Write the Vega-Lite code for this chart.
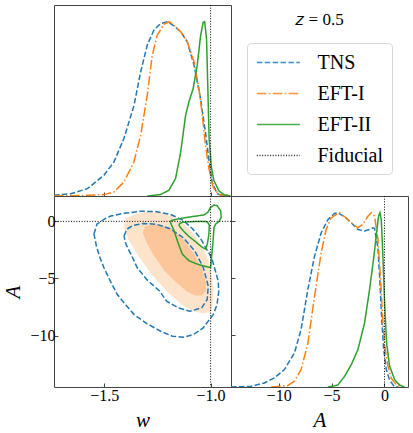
{
  "$schema": "https://vega.github.io/schema/vega-lite/v6.json",
  "padding": {"left": 2, "top": 4, "right": 0, "bottom": 0},
  "datasets": {
    "w1d": [
      {"model":"TNS","w":-1.737,"p":0.004},{"model":"TNS","w":-1.658,"p":0.013},{"model":"TNS","w":-1.58,"p":0.042},{"model":"TNS","w":-1.502,"p":0.119},{"model":"TNS","w":-1.455,"p":0.195},{"model":"TNS","w":-1.408,"p":0.33},{"model":"TNS","w":-1.361,"p":0.517},{"model":"TNS","w":-1.329,"p":0.713},{"model":"TNS","w":-1.298,"p":0.866},{"model":"TNS","w":-1.267,"p":0.952},{"model":"TNS","w":-1.236,"p":0.989},{"model":"TNS","w":-1.204,"p":1.0},{"model":"TNS","w":-1.173,"p":0.977},{"model":"TNS","w":-1.141,"p":0.943},{"model":"TNS","w":-1.11,"p":0.885},{"model":"TNS","w":-1.078,"p":0.751},{"model":"TNS","w":-1.047,"p":0.556},{"model":"TNS","w":-1.024,"p":0.364},{"model":"TNS","w":-1.008,"p":0.209},{"model":"TNS","w":-0.993,"p":0.08},{"model":"TNS","w":-0.969,"p":0.013},{"model":"TNS","w":-0.938,"p":0.0},
      {"model":"EFT-I","w":-1.737,"p":0},{"model":"EFT-I","w":-1.58,"p":0.004},{"model":"EFT-I","w":-1.502,"p":0.008},{"model":"EFT-I","w":-1.455,"p":0.023},{"model":"EFT-I","w":-1.408,"p":0.08},{"model":"EFT-I","w":-1.361,"p":0.195},{"model":"EFT-I","w":-1.329,"p":0.349},{"model":"EFT-I","w":-1.298,"p":0.579},{"model":"EFT-I","w":-1.275,"p":0.805},{"model":"EFT-I","w":-1.251,"p":0.923},{"model":"EFT-I","w":-1.22,"p":0.985},{"model":"EFT-I","w":-1.196,"p":1.0},{"model":"EFT-I","w":-1.173,"p":0.981},{"model":"EFT-I","w":-1.141,"p":0.943},{"model":"EFT-I","w":-1.11,"p":0.885},{"model":"EFT-I","w":-1.078,"p":0.77},{"model":"EFT-I","w":-1.055,"p":0.617},{"model":"EFT-I","w":-1.039,"p":0.464},{"model":"EFT-I","w":-1.024,"p":0.291},{"model":"EFT-I","w":-1.008,"p":0.157},{"model":"EFT-I","w":-0.988,"p":0.05},{"model":"EFT-I","w":-0.961,"p":0.008},{"model":"EFT-I","w":-0.922,"p":0},
      {"model":"EFT-II","w":-1.298,"p":0},{"model":"EFT-II","w":-1.236,"p":0.008},{"model":"EFT-II","w":-1.196,"p":0.033},{"model":"EFT-II","w":-1.165,"p":0.1},{"model":"EFT-II","w":-1.141,"p":0.25},{"model":"EFT-II","w":-1.118,"p":0.46},{"model":"EFT-II","w":-1.102,"p":0.54},{"model":"EFT-II","w":-1.082,"p":0.617},{"model":"EFT-II","w":-1.063,"p":0.75},{"model":"EFT-II","w":-1.047,"p":0.92},{"model":"EFT-II","w":-1.035,"p":0.996},{"model":"EFT-II","w":-1.028,"p":1.0},{"model":"EFT-II","w":-1.019,"p":0.9},{"model":"EFT-II","w":-1.013,"p":0.62},{"model":"EFT-II","w":-1.007,"p":0.33},{"model":"EFT-II","w":-0.997,"p":0.17},{"model":"EFT-II","w":-0.985,"p":0.09},{"model":"EFT-II","w":-0.961,"p":0.03},{"model":"EFT-II","w":-0.938,"p":0.008},{"model":"EFT-II","w":-0.906,"p":0}
    ],
    "a1d": [
      {"model":"TNS","A":-14.5,"p":0},{"model":"TNS","A":-12.61,"p":0.004},{"model":"TNS","A":-11.35,"p":0.023},{"model":"TNS","A":-10.4,"p":0.052},{"model":"TNS","A":-9.45,"p":0.1},{"model":"TNS","A":-8.51,"p":0.195},{"model":"TNS","A":-7.88,"p":0.33},{"model":"TNS","A":-7.24,"p":0.56},{"model":"TNS","A":-6.61,"p":0.75},{"model":"TNS","A":-5.98,"p":0.885},{"model":"TNS","A":-5.35,"p":0.96},{"model":"TNS","A":-4.72,"p":0.996},{"model":"TNS","A":-4.41,"p":1.0},{"model":"TNS","A":-3.77,"p":0.977},{"model":"TNS","A":-3.14,"p":0.943},{"model":"TNS","A":-2.51,"p":0.904},{"model":"TNS","A":-1.88,"p":0.895},{"model":"TNS","A":-1.41,"p":0.904},{"model":"TNS","A":-1.09,"p":0.914},{"model":"TNS","A":-0.94,"p":0.91},{"model":"TNS","A":-0.62,"p":0.8},{"model":"TNS","A":-0.43,"p":0.6},{"model":"TNS","A":-0.27,"p":0.4},{"model":"TNS","A":-0.08,"p":0.22},{"model":"TNS","A":0.17,"p":0.1},{"model":"TNS","A":0.48,"p":0.04},{"model":"TNS","A":0.89,"p":0.005},{"model":"TNS","A":1.27,"p":0},
      {"model":"EFT-I","A":-10.71,"p":0},{"model":"EFT-I","A":-9.14,"p":0.008},{"model":"EFT-I","A":-8.51,"p":0.033},{"model":"EFT-I","A":-7.88,"p":0.1},{"model":"EFT-I","A":-7.24,"p":0.25},{"model":"EFT-I","A":-6.61,"p":0.52},{"model":"EFT-I","A":-5.98,"p":0.77},{"model":"EFT-I","A":-5.51,"p":0.904},{"model":"EFT-I","A":-5.04,"p":0.97},{"model":"EFT-I","A":-4.41,"p":0.996},{"model":"EFT-I","A":-4.25,"p":1.0},{"model":"EFT-I","A":-3.62,"p":0.97},{"model":"EFT-I","A":-2.99,"p":0.933},{"model":"EFT-I","A":-2.51,"p":0.914},{"model":"EFT-I","A":-2.04,"p":0.933},{"model":"EFT-I","A":-1.57,"p":0.98},{"model":"EFT-I","A":-1.25,"p":1.0},{"model":"EFT-I","A":-0.94,"p":0.98},{"model":"EFT-I","A":-0.62,"p":0.847},{"model":"EFT-I","A":-0.37,"p":0.617},{"model":"EFT-I","A":-0.15,"p":0.368},{"model":"EFT-I","A":0.07,"p":0.215},{"model":"EFT-I","A":0.33,"p":0.12},{"model":"EFT-I","A":0.64,"p":0.05},{"model":"EFT-I","A":1.12,"p":0.013},{"model":"EFT-I","A":1.59,"p":0},
      {"model":"EFT-II","A":-5.35,"p":0},{"model":"EFT-II","A":-4.41,"p":0.011},{"model":"EFT-II","A":-3.77,"p":0.061},{"model":"EFT-II","A":-3.14,"p":0.128},{"model":"EFT-II","A":-2.51,"p":0.215},{"model":"EFT-II","A":-1.88,"p":0.368},{"model":"EFT-II","A":-1.41,"p":0.56},{"model":"EFT-II","A":-1.0,"p":0.75},{"model":"EFT-II","A":-0.75,"p":0.885},{"model":"EFT-II","A":-0.56,"p":0.98},{"model":"EFT-II","A":-0.43,"p":1.0},{"model":"EFT-II","A":-0.3,"p":0.96},{"model":"EFT-II","A":-0.15,"p":0.75},{"model":"EFT-II","A":0.01,"p":0.48},{"model":"EFT-II","A":0.2,"p":0.25},{"model":"EFT-II","A":0.48,"p":0.12},{"model":"EFT-II","A":0.96,"p":0.042},{"model":"EFT-II","A":1.43,"p":0.011},{"model":"EFT-II","A":1.9,"p":0}
    ],
    "cont": [
      {"model":"TNS","level":"o","i":0,"w":-1.549,"A":-1.1},{"model":"TNS","level":"o","i":1,"w":-1.535,"A":-0.25},{"model":"TNS","level":"o","i":2,"w":-1.5,"A":0.2},{"model":"TNS","level":"o","i":3,"w":-1.47,"A":0.47},{"model":"TNS","level":"o","i":4,"w":-1.41,"A":0.7},{"model":"TNS","level":"o","i":5,"w":-1.33,"A":0.88},{"model":"TNS","level":"o","i":6,"w":-1.26,"A":0.86},{"model":"TNS","level":"o","i":7,"w":-1.19,"A":0.62},{"model":"TNS","level":"o","i":8,"w":-1.13,"A":0.1},{"model":"TNS","level":"o","i":9,"w":-1.085,"A":-0.65},{"model":"TNS","level":"o","i":10,"w":-1.05,"A":-1.43},{"model":"TNS","level":"o","i":11,"w":-0.995,"A":-3.19},{"model":"TNS","level":"o","i":12,"w":-0.964,"A":-5.23},{"model":"TNS","level":"o","i":13,"w":-0.962,"A":-6.2},{"model":"TNS","level":"o","i":14,"w":-0.97,"A":-7.3},{"model":"TNS","level":"o","i":15,"w":-0.988,"A":-8.16},{"model":"TNS","level":"o","i":16,"w":-1.035,"A":-9.33},{"model":"TNS","level":"o","i":17,"w":-1.08,"A":-9.9},{"model":"TNS","level":"o","i":18,"w":-1.13,"A":-10.15},{"model":"TNS","level":"o","i":19,"w":-1.18,"A":-10.05},{"model":"TNS","level":"o","i":20,"w":-1.235,"A":-9.62},{"model":"TNS","level":"o","i":21,"w":-1.3,"A":-8.95},{"model":"TNS","level":"o","i":22,"w":-1.36,"A":-8.16},{"model":"TNS","level":"o","i":23,"w":-1.4,"A":-7.3},{"model":"TNS","level":"o","i":24,"w":-1.439,"A":-6.4},{"model":"TNS","level":"o","i":25,"w":-1.47,"A":-5.3},{"model":"TNS","level":"o","i":26,"w":-1.502,"A":-4.06},{"model":"TNS","level":"o","i":27,"w":-1.52,"A":-3.2},{"model":"TNS","level":"o","i":28,"w":-1.537,"A":-2.2},{"model":"TNS","level":"o","i":29,"w":-1.549,"A":-1.1},
      {"model":"TNS","level":"i","i":0,"w":-1.4075,"A":-1.29},{"model":"TNS","level":"i","i":1,"w":-1.395,"A":-0.7},{"model":"TNS","level":"i","i":2,"w":-1.364,"A":-0.35},{"model":"TNS","level":"i","i":3,"w":-1.317,"A":-0.18},{"model":"TNS","level":"i","i":4,"w":-1.254,"A":-0.26},{"model":"TNS","level":"i","i":5,"w":-1.191,"A":-0.64},{"model":"TNS","level":"i","i":6,"w":-1.129,"A":-1.43},{"model":"TNS","level":"i","i":7,"w":-1.074,"A":-2.6},{"model":"TNS","level":"i","i":8,"w":-1.034,"A":-4.06},{"model":"TNS","level":"i","i":9,"w":-1.011,"A":-5.67},{"model":"TNS","level":"i","i":10,"w":-1.016,"A":-6.84},{"model":"TNS","level":"i","i":11,"w":-1.042,"A":-7.57},{"model":"TNS","level":"i","i":12,"w":-1.097,"A":-7.87},{"model":"TNS","level":"i","i":13,"w":-1.152,"A":-7.57},{"model":"TNS","level":"i","i":14,"w":-1.207,"A":-6.99},{"model":"TNS","level":"i","i":15,"w":-1.24,"A":-6.1},{"model":"TNS","level":"i","i":16,"w":-1.3,"A":-5.1},{"model":"TNS","level":"i","i":17,"w":-1.345,"A":-4.06},{"model":"TNS","level":"i","i":18,"w":-1.371,"A":-3.04},{"model":"TNS","level":"i","i":19,"w":-1.398,"A":-2.02},{"model":"TNS","level":"i","i":20,"w":-1.4075,"A":-1.29},
      {"model":"EFT-II","level":"o","i":0,"w":-1.188,"A":0.06},{"model":"EFT-II","level":"o","i":1,"w":-1.141,"A":0.26},{"model":"EFT-II","level":"o","i":2,"w":-1.078,"A":0.44},{"model":"EFT-II","level":"o","i":3,"w":-1.031,"A":0.56},{"model":"EFT-II","level":"o","i":4,"w":-1.013,"A":0.79},{"model":"EFT-II","level":"o","i":5,"w":-1.0,"A":1.23},{"model":"EFT-II","level":"o","i":6,"w":-0.984,"A":1.43},{"model":"EFT-II","level":"o","i":7,"w":-0.969,"A":1.37},{"model":"EFT-II","level":"o","i":8,"w":-0.953,"A":0.94},{"model":"EFT-II","level":"o","i":9,"w":-0.95,"A":0.35},{"model":"EFT-II","level":"o","i":10,"w":-0.961,"A":-0.03},{"model":"EFT-II","level":"o","i":11,"w":-0.976,"A":-0.23},{"model":"EFT-II","level":"o","i":12,"w":-0.984,"A":-0.53},{"model":"EFT-II","level":"o","i":13,"w":-0.989,"A":-1.84},{"model":"EFT-II","level":"o","i":14,"w":-0.995,"A":-3.01},{"model":"EFT-II","level":"o","i":15,"w":-1.0,"A":-4.04},{"model":"EFT-II","level":"o","i":16,"w":-1.024,"A":-3.95},{"model":"EFT-II","level":"o","i":17,"w":-1.063,"A":-3.74},{"model":"EFT-II","level":"o","i":18,"w":-1.102,"A":-3.45},{"model":"EFT-II","level":"o","i":19,"w":-1.133,"A":-2.87},{"model":"EFT-II","level":"o","i":20,"w":-1.154,"A":-1.84},{"model":"EFT-II","level":"o","i":21,"w":-1.172,"A":-0.82},{"model":"EFT-II","level":"o","i":22,"w":-1.188,"A":-0.15},{"model":"EFT-II","level":"o","i":23,"w":-1.188,"A":0.06},
      {"model":"EFT-II","level":"i","i":0,"w":-1.149,"A":-0.23},{"model":"EFT-II","level":"i","i":1,"w":-1.133,"A":-0.09},{"model":"EFT-II","level":"i","i":2,"w":-1.094,"A":-0.03},{"model":"EFT-II","level":"i","i":3,"w":-1.047,"A":0.0},{"model":"EFT-II","level":"i","i":4,"w":-1.016,"A":-0.03},{"model":"EFT-II","level":"i","i":5,"w":-1.006,"A":-0.32},{"model":"EFT-II","level":"i","i":6,"w":-1.008,"A":-1.11},{"model":"EFT-II","level":"i","i":7,"w":-1.014,"A":-1.84},{"model":"EFT-II","level":"i","i":8,"w":-1.022,"A":-2.43},{"model":"EFT-II","level":"i","i":9,"w":-1.039,"A":-2.28},{"model":"EFT-II","level":"i","i":10,"w":-1.071,"A":-1.78},{"model":"EFT-II","level":"i","i":11,"w":-1.102,"A":-1.32},{"model":"EFT-II","level":"i","i":12,"w":-1.129,"A":-0.82},{"model":"EFT-II","level":"i","i":13,"w":-1.146,"A":-0.44},{"model":"EFT-II","level":"i","i":14,"w":-1.149,"A":-0.23}
    ],
    "fills": [
      {"shade":"outer","i":0,"w":-1.41,"A":-0.5},{"shade":"outer","i":1,"w":-1.4,"A":0.2},{"shade":"outer","i":2,"w":-1.36,"A":0.6},{"shade":"outer","i":3,"w":-1.3,"A":0.82},{"shade":"outer","i":4,"w":-1.24,"A":0.8},{"shade":"outer","i":5,"w":-1.18,"A":0.45},{"shade":"outer","i":6,"w":-1.13,"A":-0.2},{"shade":"outer","i":7,"w":-1.09,"A":-0.9},{"shade":"outer","i":8,"w":-1.05,"A":-1.87},{"shade":"outer","i":9,"w":-1.011,"A":-3.33},{"shade":"outer","i":10,"w":-0.991,"A":-5.09},{"shade":"outer","i":11,"w":-0.988,"A":-6.84},{"shade":"outer","i":12,"w":-0.995,"A":-7.87},{"shade":"outer","i":13,"w":-1.034,"A":-8.07},{"shade":"outer","i":14,"w":-1.082,"A":-7.87},{"shade":"outer","i":15,"w":-1.136,"A":-7.28},{"shade":"outer","i":16,"w":-1.207,"A":-6.11},{"shade":"outer","i":17,"w":-1.277,"A":-4.65},{"shade":"outer","i":18,"w":-1.34,"A":-3.04},{"shade":"outer","i":19,"w":-1.387,"A":-1.58},{"shade":"outer","i":20,"w":-1.41,"A":-0.5},
      {"shade":"inner","i":0,"w":-1.32,"A":-0.99},{"shade":"inner","i":1,"w":-1.309,"A":-0.47},{"shade":"inner","i":2,"w":-1.277,"A":-0.26},{"shade":"inner","i":3,"w":-1.23,"A":-0.35},{"shade":"inner","i":4,"w":-1.183,"A":-0.7},{"shade":"inner","i":5,"w":-1.129,"A":-1.58},{"shade":"inner","i":6,"w":-1.082,"A":-2.75},{"shade":"inner","i":7,"w":-1.042,"A":-4.06},{"shade":"inner","i":8,"w":-1.022,"A":-5.38},{"shade":"inner","i":9,"w":-1.022,"A":-6.11},{"shade":"inner","i":10,"w":-1.042,"A":-6.49},{"shade":"inner","i":11,"w":-1.074,"A":-6.49},{"shade":"inner","i":12,"w":-1.113,"A":-6.11},{"shade":"inner","i":13,"w":-1.16,"A":-5.38},{"shade":"inner","i":14,"w":-1.215,"A":-4.36},{"shade":"inner","i":15,"w":-1.266,"A":-3.04},{"shade":"inner","i":16,"w":-1.301,"A":-1.87},{"shade":"inner","i":17,"w":-1.32,"A":-0.99}
    ],
    "fid": [{"model":"Fiducial","w":-1.0,"A":0}]
  },
  "columns": 2,
  "spacing": 0,
  "bounds": "flush",
  "concat": [
    {
      "width": 177, "height": 191,
      "layer": [
        {
          "data": {"name": "w1d"},
          "mark": {"type": "line", "strokeWidth": 1.5, "clip": true},
          "encoding": {
            "x": {"field": "w", "type": "quantitative", "scale": {"domain": [-1.737, -0.904], "nice": false, "zero": false}, "axis": {"values": [-1.5, -1.0], "labels": false, "title": null}},
            "y": {"field": "p", "type": "quantitative", "scale": {"domain": [0, 1.096], "nice": false}, "axis": null},
            "color": {"field": "model", "type": "nominal", "scale": {"domain": ["TNS","EFT-I","EFT-II","Fiducial"], "range": ["#1f77b4","#ff7f0e","#2ca02c","#000000"]}, "legend": {"orient": "none", "legendX": 193, "legendY": 38, "title": null}},
            "strokeDash": {"field": "model", "type": "nominal", "scale": {"domain": ["TNS","EFT-I","EFT-II","Fiducial"], "range": [[5.5,2.4],[9.6,2.4,1.5,2.4],[1,0],[1,1.65]]}}
          }
        },
        {
          "data": {"name": "fid"},
          "mark": {"type": "rule", "strokeWidth": 1},
          "encoding": {
            "x": {"field": "w", "type": "quantitative"},
            "color": {"field": "model", "type": "nominal", "scale": {"domain": ["TNS","EFT-I","EFT-II","Fiducial"], "range": ["#1f77b4","#ff7f0e","#2ca02c","#000000"]}, "legend": {"orient": "none", "legendX": 193, "legendY": 38, "title": null}},
            "strokeDash": {"field": "model", "type": "nominal", "scale": {"domain": ["TNS","EFT-I","EFT-II","Fiducial"], "range": [[5.5,2.4],[9.6,2.4,1.5,2.4],[1,0],[1,1.65]]}}
          }
        }
      ]
    },
    {
      "width": 177, "height": 191,
      "view": {"stroke": null},
      "title": {"text": "𝑧 = 0.5", "font": "Liberation Serif", "fontSize": 17, "fontWeight": "normal", "anchor": "middle", "baseline": "middle", "offset": -32},
      "data": {"values": [{}]},
      "mark": {"type": "point", "opacity": 0}
    },
    {
      "width": 177, "height": 191,
      "layer": [
        {
          "data": {"name": "fills"},
          "transform": [{"filter": "datum.shade == 'outer'"}],
          "mark": {"type": "line", "fill": "#fee3cb", "strokeWidth": 0, "clip": true},
          "encoding": {
            "x": {"field": "w", "type": "quantitative", "scale": {"domain": [-1.737, -0.904], "nice": false, "zero": false}, "axis": {"values": [-1.5, -1.0], "format": ".1f", "title": "w", "labelPadding": 4, "titlePadding": 6}},
            "y": {"field": "A", "type": "quantitative", "scale": {"domain": [-14.5, 2.22], "nice": false, "zero": false}, "axis": {"values": [-10, -5, 0], "format": "d", "title": "A", "labelPadding": 3, "titlePadding": 6}},
            "order": {"field": "i", "type": "quantitative"}
          }
        },
        {
          "data": {"name": "fills"},
          "transform": [{"filter": "datum.shade == 'inner'"}],
          "mark": {"type": "line", "fill": "#fcc69a", "strokeWidth": 0, "clip": true},
          "encoding": {
            "x": {"field": "w", "type": "quantitative"},
            "y": {"field": "A", "type": "quantitative"},
            "order": {"field": "i", "type": "quantitative"}
          }
        },
        {
          "data": {"name": "cont"},
          "mark": {"type": "line", "strokeWidth": 1.5, "clip": true},
          "encoding": {
            "x": {"field": "w", "type": "quantitative"},
            "y": {"field": "A", "type": "quantitative"},
            "order": {"field": "i", "type": "quantitative"},
            "detail": {"field": "level", "type": "nominal"},
            "color": {"field": "model", "type": "nominal", "scale": {"domain": ["TNS","EFT-I","EFT-II","Fiducial"], "range": ["#1f77b4","#ff7f0e","#2ca02c","#000000"]}, "legend": {"orient": "none", "legendX": 193, "legendY": 38, "title": null}},
            "strokeDash": {"field": "model", "type": "nominal", "scale": {"domain": ["TNS","EFT-I","EFT-II","Fiducial"], "range": [[5.5,2.4],[9.6,2.4,1.5,2.4],[1,0],[1,1.65]]}}
          }
        },
        {
          "data": {"name": "fid"},
          "mark": {"type": "rule", "strokeWidth": 1},
          "encoding": {
            "x": {"field": "w", "type": "quantitative"},
            "color": {"field": "model", "type": "nominal", "scale": {"domain": ["TNS","EFT-I","EFT-II","Fiducial"], "range": ["#1f77b4","#ff7f0e","#2ca02c","#000000"]}, "legend": {"orient": "none", "legendX": 193, "legendY": 38, "title": null}},
            "strokeDash": {"field": "model", "type": "nominal", "scale": {"domain": ["TNS","EFT-I","EFT-II","Fiducial"], "range": [[5.5,2.4],[9.6,2.4,1.5,2.4],[1,0],[1,1.65]]}}
          }
        },
        {
          "data": {"name": "fid"},
          "mark": {"type": "rule", "strokeWidth": 1},
          "encoding": {
            "y": {"field": "A", "type": "quantitative"},
            "color": {"field": "model", "type": "nominal", "scale": {"domain": ["TNS","EFT-I","EFT-II","Fiducial"], "range": ["#1f77b4","#ff7f0e","#2ca02c","#000000"]}, "legend": {"orient": "none", "legendX": 193, "legendY": 38, "title": null}},
            "strokeDash": {"field": "model", "type": "nominal", "scale": {"domain": ["TNS","EFT-I","EFT-II","Fiducial"], "range": [[5.5,2.4],[9.6,2.4,1.5,2.4],[1,0],[1,1.65]]}}
          }
        }
      ]
    },
    {
      "width": 177, "height": 191,
      "layer": [
        {
          "data": {"name": "a1d"},
          "mark": {"type": "line", "strokeWidth": 1.5, "clip": true},
          "encoding": {
            "x": {"field": "A", "type": "quantitative", "scale": {"domain": [-14.5, 2.22], "nice": false, "zero": false}, "axis": {"values": [-10, -5, 0], "format": "d", "title": "A", "labelPadding": 4, "titlePadding": 6}},
            "y": {"field": "p", "type": "quantitative", "scale": {"domain": [0, 1.096], "nice": false}, "axis": {"values": [0.298, 0.626, 0.954], "labels": false, "title": null}},
            "color": {"field": "model", "type": "nominal", "scale": {"domain": ["TNS","EFT-I","EFT-II","Fiducial"], "range": ["#1f77b4","#ff7f0e","#2ca02c","#000000"]}, "legend": {"orient": "none", "legendX": 193, "legendY": 38, "title": null}},
            "strokeDash": {"field": "model", "type": "nominal", "scale": {"domain": ["TNS","EFT-I","EFT-II","Fiducial"], "range": [[5.5,2.4],[9.6,2.4,1.5,2.4],[1,0],[1,1.65]]}}
          }
        },
        {
          "data": {"name": "fid"},
          "mark": {"type": "rule", "strokeWidth": 1},
          "encoding": {
            "x": {"field": "A", "type": "quantitative"},
            "color": {"field": "model", "type": "nominal", "scale": {"domain": ["TNS","EFT-I","EFT-II","Fiducial"], "range": ["#1f77b4","#ff7f0e","#2ca02c","#000000"]}, "legend": {"orient": "none", "legendX": 193, "legendY": 38, "title": null}},
            "strokeDash": {"field": "model", "type": "nominal", "scale": {"domain": ["TNS","EFT-I","EFT-II","Fiducial"], "range": [[5.5,2.4],[9.6,2.4,1.5,2.4],[1,0],[1,1.65]]}}
          }
        }
      ]
    }
  ],
  "config": {
    "font": "Liberation Serif",
    "view": {"stroke": "#444444", "strokeWidth": 1},
    "axis": {"domain": false, "grid": false, "tickSize": -4, "tickColor": "#444444", "labelFont": "Liberation Serif", "labelFontSize": 16, "labelColor": "#000000", "titleFont": "Liberation Serif", "titleFontSize": 21, "titleFontWeight": "normal", "titleFontStyle": "italic", "titleColor": "#000000"},
    "legend": {"labelFont": "Liberation Serif", "labelFontSize": 20, "labelColor": "#000000", "symbolType": "M-0.9,0H3.1", "symbolSize": 462, "symbolStrokeWidth": 1.3, "symbolOpacity": 0.85, "strokeColor": "#d6d6d6", "fillColor": "#ffffff", "cornerRadius": 4, "padding": 8, "rowPadding": 9, "labelOffset": 39.5, "labelLimit": 300}
  }
}
